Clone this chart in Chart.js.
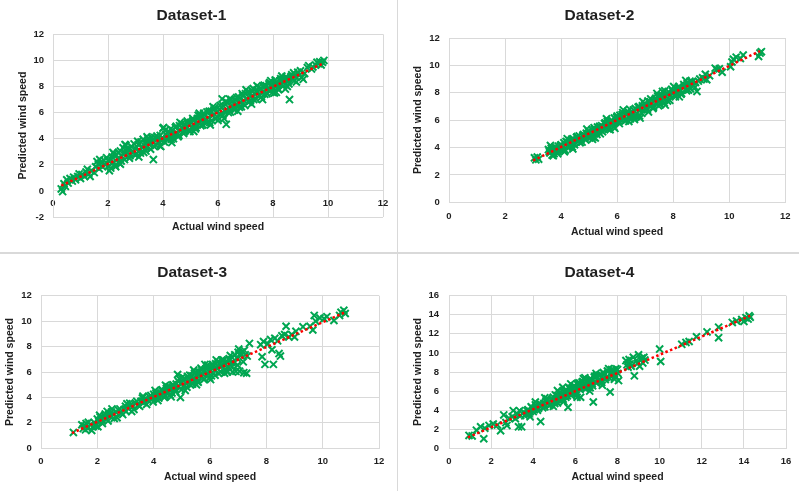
<!DOCTYPE html>
<html>
<head>
<meta charset="utf-8">
<title>Actual vs predicted wind speed</title>
<script src="https://cdn.jsdelivr.net/npm/chart.js@4.4.1/dist/chart.umd.min.js"></script>
<style>
  html, body { margin: 0; padding: 0; background: #fff; width: 799px; height: 491px; overflow: hidden; }
  .panel { position: absolute; }
  .sep { position: absolute; background: #d9d9d9; z-index: 5; }
</style>
</head>
<body>
<div class="panel" style="left:0px;top:0px;width:398px;height:250px"><canvas id="chart1" width="398" height="250"></canvas></div>
<div class="panel" style="left:412px;top:0px;width:387px;height:250px"><canvas id="chart2" width="387" height="250"></canvas></div>
<div class="panel" style="left:0px;top:254px;width:392px;height:237px"><canvas id="chart3" width="392" height="237"></canvas></div>
<div class="panel" style="left:412px;top:254px;width:387px;height:237px"><canvas id="chart4" width="387" height="237"></canvas></div>
<div class="sep" style="left:397px;top:0px;width:1px;height:491px"></div>
<div class="sep" style="left:0px;top:252px;width:799px;height:2px"></div>

<script>
// titles
const panelTitles = ['Dataset-1', 'Dataset-2', 'Dataset-3', 'Dataset-4'];
const xAxisTitle = 'Actual wind speed';
const yAxisTitle = 'Predicted wind speed';

// axis ranges [min, max], ticks every 2
const ds1XRange = [0, 12], ds1YRange = [-2, 12];
const ds2XRange = [0, 12], ds2YRange = [0, 12];
const ds3XRange = [0, 12], ds3YRange = [0, 12];
const ds4XRange = [0, 16], ds4YRange = [0, 16];

// [actual, predicted]
const ds1Points = [
  [0.30,0.15],[0.35,-0.05],[0.40,0.55],[0.45,0.35],[0.50,0.85],[0.55,0.60],[0.62,0.95],[0.70,0.75],[0.75,1.05],[0.82,0.85],
  [0.90,1.10],[1.05,1.25],[1.15,1.10],[1.20,1.45],[1.30,1.30],[1.40,1.55],[1.50,1.40],[1.60,2.25],[1.65,2.05],[1.70,2.40],
  [1.75,2.15],[1.80,1.85],[1.90,2.00],[2.00,2.35],[2.05,1.55],[2.10,1.75],[2.15,2.60],[2.20,2.20],[2.25,1.95],[2.30,2.75],
  [2.35,2.45],[2.40,2.15],[2.45,3.05],[2.50,2.65],[2.55,3.30],[2.60,2.40],[2.65,3.50],[2.70,2.90],[2.75,3.15],[2.80,2.70],
  [2.85,3.40],[2.90,3.05],[2.95,3.60],[3.00,3.25],[3.05,2.85],[3.10,3.55],[3.15,3.10],[3.20,3.75],[3.25,3.35],[3.30,2.95],
  [3.35,3.65],[3.40,3.30],[3.45,4.00],[3.50,3.55],[3.55,3.20],[3.60,3.85],[3.65,2.40],[3.70,4.10],[3.75,3.50],[3.80,3.95],
  [3.85,3.70],[3.90,4.25],[3.95,3.85],[4.00,4.80],[4.05,3.75],[4.10,4.35],[4.15,4.05],[4.20,4.55],[4.25,4.20],[4.30,3.95],
  [4.35,4.65],[4.40,4.30],[4.45,4.85],[4.50,4.45],[4.55,4.15],[4.60,5.00],[4.65,4.60],[4.70,4.85],[4.75,4.40],[4.80,5.10],
  [4.85,4.75],[4.90,5.20],[4.95,4.65],[5.00,5.25],[5.05,4.90],[5.10,5.40],[5.15,5.05],[5.20,4.85],[5.25,5.55],[5.30,5.20],
  [5.35,5.75],[5.40,5.35],[5.45,5.05],[5.50,5.80],[5.55,5.45],[5.60,6.05],[5.65,5.60],[5.70,5.25],[5.75,6.10],[5.80,5.75],
  [5.85,6.20],[5.90,5.55],[5.95,6.00],[6.00,5.40],[6.05,6.25],[6.10,5.85],[6.15,7.05],[6.20,6.50],[6.25,6.10],[6.30,5.10],
  [6.35,6.75],[6.40,6.35],[6.45,6.05],[6.50,6.85],[6.55,6.50],[6.60,6.20],[6.65,6.95],[6.70,6.60],[6.75,7.20],[6.80,6.75],
  [6.85,6.45],[6.90,7.30],[6.95,6.90],[7.00,7.45],[7.05,7.05],[7.10,6.80],[7.15,7.55],[7.20,7.20],[7.25,7.65],[7.30,7.00],
  [7.35,7.40],[7.40,7.70],[7.50,7.30],[7.55,7.85],[7.60,7.50],[7.65,8.00],[7.70,7.40],[7.75,8.05],[7.80,7.80],[7.85,8.20],
  [7.90,7.65],[7.95,8.15],[8.00,7.90],[8.05,7.50],[8.10,8.30],[8.15,8.05],[8.20,7.75],[8.25,8.45],[8.30,8.20],[8.35,8.55],
  [8.40,8.35],[8.45,7.80],[8.50,8.65],[8.55,8.40],[8.60,7.00],[8.65,8.75],[8.70,8.55],[8.80,8.80],[8.90,9.10],[9.05,8.70],
  [9.10,8.55],[9.15,9.00],[9.25,9.45],[9.30,9.60],[9.40,9.35],[9.55,9.65],[9.65,9.75],[9.70,9.90],[9.80,9.85],[9.85,10.00],
  [1.95,2.55],[2.02,1.90],[2.12,2.40],[2.22,2.85],[2.28,1.85],[2.38,2.95],[2.48,2.30],[2.58,2.95],[2.68,3.25],[2.78,2.50],
  [2.88,3.00],[2.98,2.75],[3.08,3.80],[3.18,2.90],[3.28,3.95],[3.38,3.05],[3.48,3.75],[3.58,4.10],[3.68,3.40],[3.78,4.20],
  [3.88,3.45],[3.98,4.05],[4.08,4.65],[4.18,3.90],[4.28,4.75],[4.38,4.00],[4.48,4.95],[4.58,4.25],[4.68,5.15],[4.78,4.55],
  [4.88,5.35],[4.98,4.55],[5.08,5.55],[5.18,4.75],[5.28,5.80],[5.38,5.00],[5.48,5.95],[5.58,5.20],[5.68,6.10],[5.78,5.40],
  [5.88,6.35],[5.98,5.65],[6.08,6.55],[6.18,5.80],[6.28,6.85],[6.38,6.00],[6.48,7.00],[6.58,6.30],[6.68,7.15],[6.78,6.40],
  [6.88,7.45],[6.98,6.55],[7.08,7.60],[7.18,6.90],[7.28,7.85],[7.38,7.05],[7.48,7.95],[7.58,7.20],[7.68,8.10],[7.78,7.45],
  [7.88,8.30],[7.98,7.55],[8.08,8.50],[8.18,7.85],[8.28,8.60],[8.38,8.05],[8.48,8.75],[8.58,8.20],[8.68,8.90],[8.78,8.45],
  [8.95,8.85],[9.00,9.20],[1.00,0.95],[1.25,1.65],[0.95,1.30],[1.35,1.10],[1.55,1.85],[1.85,2.35],[9.45,9.50],[9.60,9.85],
  [9.75,9.65],[2.62,3.55],[3.12,2.60],[3.42,4.15],[3.92,3.40],[4.02,4.85],[4.32,3.70],[4.62,5.25],[5.12,4.55],[5.32,5.95],
  [5.72,5.05],[5.82,6.45],[6.22,5.55],[6.42,7.05],[6.72,6.10],[7.02,7.75],[7.22,6.65],[7.42,8.05],[7.62,7.00],[7.92,8.45],
  [8.12,7.55],[8.32,8.80],[8.52,8.00],[8.75,9.05],[8.85,8.35],[2.18,2.95],[1.68,1.70],[2.45,2.05]
];
const ds2Points = [
  [3.05,3.25],[3.10,3.10],[3.15,3.30],[3.20,3.15],[3.55,3.85],[3.60,3.60],[3.65,3.95],[3.70,3.75],[3.75,3.55],[3.80,3.90],
  [3.85,3.70],[3.90,4.10],[3.95,3.85],[4.00,4.20],[4.05,3.95],[4.10,4.35],[4.15,3.80],[4.20,4.40],[4.25,4.15],[4.30,4.50],
  [4.35,4.25],[4.40,4.05],[4.45,4.60],[4.50,4.40],[4.55,4.75],[4.60,4.50],[4.65,4.85],[4.70,4.60],[4.75,4.40],[4.80,4.95],
  [4.85,4.70],[4.90,5.05],[4.95,4.80],[5.00,5.15],[5.05,4.90],[5.10,5.30],[5.15,4.75],[5.20,5.35],[5.25,5.10],[5.30,5.50],
  [5.35,5.20],[5.40,5.00],[5.45,5.60],[5.50,5.35],[5.55,5.75],[5.60,5.45],[5.65,5.90],[5.70,5.55],[5.75,5.30],[5.80,6.00],
  [5.85,5.75],[5.90,6.15],[5.95,5.85],[6.00,6.30],[6.05,5.95],[6.10,6.35],[6.15,6.05],[6.20,6.55],[6.25,6.20],[6.30,5.95],
  [6.35,6.45],[6.40,6.25],[6.45,6.80],[6.50,6.30],[6.55,6.55],[6.60,6.20],[6.65,6.85],[6.70,6.50],[6.75,6.95],[6.80,6.30],
  [6.85,6.80],[6.90,7.05],[6.95,6.75],[7.00,7.20],[7.05,6.90],[7.10,7.40],[7.15,7.05],[7.20,7.55],[7.25,7.20],[7.30,6.95],
  [7.35,7.50],[7.40,7.30],[7.45,7.75],[7.50,7.40],[7.55,7.15],[7.60,7.80],[7.65,7.55],[7.70,8.15],[7.75,7.70],[7.80,7.40],
  [7.85,8.05],[7.90,7.80],[7.95,8.25],[8.00,8.10],[8.05,7.85],[8.10,8.30],[8.15,8.00],[8.20,8.45],[8.25,8.20],[8.30,7.95],
  [8.40,8.40],[8.50,8.70],[8.55,8.20],[8.60,8.85],[8.70,8.55],[8.80,8.75],[8.85,8.10],[8.90,8.85],[9.05,9.10],[9.15,9.35],
  [9.20,8.95],[9.30,9.25],[9.50,9.80],[9.55,9.70],[9.65,9.75],[9.75,9.50],[10.05,9.90],[10.10,10.25],[10.15,10.45],[10.25,10.60],
  [10.40,10.50],[10.50,10.75],[11.05,10.65],[11.10,10.90],[11.15,11.00],
  [3.58,3.70],[3.68,3.45],[3.78,4.05],[3.88,3.55],[3.98,4.15],[4.08,3.80],[4.18,4.45],[4.28,4.00],[4.38,4.60],[4.48,4.20],
  [4.58,4.80],[4.68,4.35],[4.78,4.90],[4.88,4.55],[4.98,5.20],[5.08,4.80],[5.18,5.45],[5.28,4.95],[5.38,5.55],[5.48,5.15],
  [5.58,5.80],[5.68,5.35],[5.78,5.95],[5.88,5.50],[5.98,6.20],[6.08,5.75],[6.18,6.40],[6.28,5.95],[6.38,6.65],[6.48,6.10],
  [6.58,6.75],[6.68,6.25],[6.78,7.00],[6.88,6.50],[6.98,7.20],[7.08,6.75],[7.18,7.35],[7.28,6.85],[7.38,7.60],[7.48,7.05],
  [7.58,7.70],[7.68,7.25],[7.78,7.95],[7.88,7.45],[7.98,8.15],[8.08,7.70],[8.18,8.35],[8.28,7.90],[8.38,8.60],[8.48,8.15],
  [8.58,8.65],[8.68,8.80],[8.78,8.40],[8.95,9.00],[9.10,9.00],[6.62,6.05],[6.82,6.15],[5.22,4.70],[4.12,3.70],[7.62,8.10],
  [3.62,4.15],[3.72,3.40],[4.22,4.65],[4.42,3.90],[4.92,5.35],[5.12,4.60],[5.62,6.10],[5.92,5.40],[6.22,6.75],[6.42,5.90],
  [6.92,7.35],[7.12,6.60],[7.42,7.95],[7.72,7.10],[8.02,8.45],[8.22,7.70],[8.45,8.90],[8.62,8.30]
];
const ds3Points = [
  [1.15,1.25],[1.45,1.85],[1.50,1.55],[1.55,1.75],[1.60,1.95],[1.65,1.60],[1.75,1.85],[1.80,1.40],[1.85,1.70],[1.90,2.00],
  [2.00,2.30],[2.05,2.10],[2.10,2.45],[2.15,2.25],[2.25,2.55],[2.30,2.35],[2.35,2.90],[2.40,2.65],[2.45,2.50],[2.55,2.70],
  [2.65,2.85],[2.70,2.40],[2.75,3.00],[2.85,2.80],[2.95,3.05],[3.00,3.30],[3.05,3.50],[3.10,3.15],[3.20,3.45],[3.25,3.25],
  [3.35,3.55],[3.45,3.40],[3.55,3.70],[3.65,3.60],[3.70,3.90],[3.80,3.75],[3.90,4.15],[3.95,3.90],[4.00,4.25],[4.05,4.55],
  [4.10,4.05],[4.15,3.75],[4.20,4.40],[4.25,4.20],[4.30,4.60],[4.35,4.35],[4.40,4.15],[4.45,4.70],[4.50,4.45],[4.55,4.85],
  [4.60,4.60],[4.65,4.35],[4.70,4.95],[4.75,4.70],[4.80,5.05],[4.85,5.80],[4.90,4.85],[4.95,4.00],[5.00,5.20],[5.05,4.90],
  [5.10,5.40],[5.15,5.10],[5.20,5.65],[5.25,5.30],[5.30,5.00],[5.35,5.70],[5.40,5.45],[5.45,5.90],[5.50,5.55],[5.55,5.25],
  [5.60,6.00],[5.65,5.70],[5.70,6.20],[5.75,5.80],[5.80,5.45],[5.85,6.25],[5.90,5.90],[5.95,6.40],[6.00,6.05],[6.05,5.70],
  [6.10,6.45],[6.15,6.15],[6.20,6.65],[6.25,6.30],[6.30,5.90],[6.35,6.70],[6.40,6.45],[6.45,6.90],[6.50,6.55],[6.55,6.20],
  [6.60,6.85],[6.65,6.40],[6.70,6.95],[6.80,6.00],[6.85,6.70],[6.95,7.10],[7.00,7.55],[7.05,6.05],[7.10,7.30],[7.15,7.60],
  [7.20,5.95],[7.25,7.35],[7.30,5.90],[7.40,8.25],[7.80,8.15],[7.85,7.20],[7.90,8.40],[7.95,6.60],[8.05,8.20],[8.15,8.55],
  [8.20,7.75],[8.25,6.60],[8.30,8.65],[8.40,8.45],[8.45,7.45],[8.50,7.25],[8.55,8.85],[8.65,8.95],[8.70,9.60],[8.80,8.75],
  [8.90,8.95],[9.00,8.75],[9.05,9.20],[9.30,9.55],[9.55,9.60],[9.65,9.30],[9.70,10.45],[9.75,10.00],[9.90,10.25],[10.05,10.20],
  [10.15,10.35],[10.40,10.05],[10.60,10.45],[10.65,10.70],[10.75,10.85],[10.80,10.60],
  [1.58,1.45],[1.68,2.05],[1.95,1.75],[2.08,2.60],[2.18,1.95],[2.28,2.70],[2.38,2.15],[2.50,2.85],[2.60,2.35],[2.80,3.10],
  [2.90,2.65],[3.02,2.90],[3.15,3.55],[3.30,3.05],[3.40,3.70],[3.50,3.30],[3.60,3.95],[3.75,3.45],[3.85,4.05],[3.98,3.65],
  [4.08,4.35],[4.18,3.95],[4.28,4.55],[4.38,4.00],[4.48,4.85],[4.58,4.20],[4.68,5.00],[4.78,4.45],[4.88,5.25],[4.98,4.60],
  [5.08,5.50],[5.18,4.80],[5.28,5.75],[5.38,5.05],[5.48,6.00],[5.58,5.20],[5.68,6.30],[5.78,5.40],[5.88,6.45],[5.98,5.55],
  [6.08,6.60],[6.18,5.75],[6.28,6.80],[6.38,6.00],[6.48,6.95],[6.58,6.10],[6.68,7.05],[6.78,6.40],[6.88,7.35],[6.98,6.55],
  [7.08,7.45],[7.18,6.80],[7.22,7.70],[7.32,7.25],[6.92,6.05],[6.75,6.75],[5.92,6.55],[6.42,6.95],[5.62,5.95],[5.02,5.60],
  [4.42,4.95],[4.62,4.05],[4.92,5.45],[5.12,4.55],[5.42,6.15],[5.52,5.00],[5.82,6.60],[6.02,5.40],[6.22,6.95],[6.52,5.90],
  [6.72,7.30],[6.62,6.00],[7.02,7.80],[3.62,4.10],[3.22,2.90],[2.52,3.10],[2.02,1.70]
];
const ds4Points = [
  [0.95,1.35],[1.10,1.30],[1.30,1.90],[1.50,2.25],[1.65,1.00],[1.70,2.10],[1.90,2.40],[2.10,2.55],[2.30,2.45],[2.45,1.85],
  [2.60,3.50],[2.70,2.70],[2.75,2.40],[2.85,3.15],[3.00,3.30],[3.05,3.95],[3.15,3.10],[3.25,3.60],[3.30,2.25],[3.40,3.45],
  [3.45,2.25],[3.55,3.80],[3.65,3.60],[3.75,4.05],[3.85,3.85],[3.95,4.25],[4.05,4.05],[4.15,4.40],[4.25,4.20],[4.35,2.80],
  [4.40,4.55],[4.50,4.70],[4.55,4.35],[4.65,5.20],[4.70,4.80],[4.80,4.55],[4.85,5.05],[4.95,5.35],[5.00,4.90],[5.05,5.60],
  [5.10,5.20],[5.15,4.75],[5.20,5.45],[5.25,5.80],[5.30,5.30],[5.35,5.05],[5.40,6.40],[5.45,5.60],[5.50,5.90],[5.55,5.35],
  [5.60,6.05],[5.65,4.30],[5.70,5.75],[5.75,6.20],[5.80,5.55],[5.85,6.35],[5.90,5.90],[5.95,6.55],[6.00,6.10],[6.05,5.60],
  [6.10,6.70],[6.15,6.30],[6.20,6.85],[6.25,5.35],[6.30,6.45],[6.35,7.00],[6.40,6.55],[6.45,7.40],[6.50,6.25],[6.55,6.90],
  [6.60,6.60],[6.65,7.20],[6.70,6.35],[6.75,7.05],[6.80,6.75],[6.85,4.85],[6.90,7.45],[6.95,6.95],[7.00,7.60],[7.10,7.10],
  [7.20,7.70],[7.25,6.90],[7.35,7.85],[7.45,7.40],[7.55,8.05],[7.65,5.90],[7.70,7.80],[7.80,8.20],[7.90,7.55],[8.00,8.25],
  [8.05,7.10],[8.40,9.20],[8.50,8.50],[8.60,8.85],[8.75,9.55],[8.80,7.60],[8.90,9.20],[9.00,9.80],[9.05,8.60],[9.15,9.45],
  [9.30,9.25],[10.00,10.40],[10.05,9.10],[11.05,10.90],[11.25,11.10],[11.40,11.20],[11.75,11.70],[12.25,12.20],[12.80,12.70],[12.80,11.60],
  [13.45,13.20],[13.65,13.35],[13.90,13.50],[14.00,13.30],[14.10,13.70],[14.20,13.55],[14.25,13.90],[14.30,13.75],
  [3.60,3.40],[3.70,3.95],[3.80,3.60],[3.90,4.35],[4.00,3.85],[4.10,4.55],[4.20,4.00],[4.30,4.70],[4.45,4.25],[4.60,4.95],
  [4.75,4.45],[4.90,5.15],[5.02,4.70],[5.12,5.50],[5.22,5.05],[5.32,5.70],[5.42,5.15],[5.52,6.10],[5.62,5.50],[5.72,6.35],
  [5.82,5.75],[5.92,6.50],[6.02,5.90],[6.12,6.85],[6.22,6.20],[6.32,6.95],[6.42,6.35],[6.52,7.10],[6.62,6.45],[6.72,7.30],
  [6.82,6.55],[6.92,7.55],[7.02,6.85],[7.12,7.65],[7.22,7.05],[7.32,7.95],[7.42,7.20],[7.52,8.10],[7.62,7.35],[7.72,8.25],
  [7.82,7.70],[7.92,8.35],[8.02,7.85],[8.45,8.75],[8.55,9.30],[8.65,8.60],[8.95,8.90],[9.10,9.30],[9.20,8.95],[9.25,9.55],
  [4.55,5.30],[4.95,4.40],[5.15,6.05],[5.45,4.90],[5.78,6.75],[6.08,5.35],[6.38,7.30],[6.68,6.00],[6.98,7.85],[7.28,6.60],
  [7.58,8.35],[7.85,7.25],[3.35,3.95],[3.85,3.30],[4.10,4.85]
];

// linear trendline end points
const ds1Trend = [[0.3, 0.4], [9.8, 9.75]];
const ds2Trend = [[3.0, 3.05], [11.1, 11.05]];
const ds3Trend = [[1.1, 1.2], [10.8, 10.7]];
const ds4Trend = [[0.9, 1.15], [14.3, 13.9]];

const TEXT = '#1f1f1f';
const GRID = '#d9d9d9';
const GREEN = '#00a651';
const FONT = '"Liberation Sans", Arial, sans-serif';

const toXY = pts => pts.map(p => ({ x: p[0], y: p[1] }));

function buildChart(canvasId, cfg) {
  const tickFont = { family: FONT, size: 9.5, weight: 'bold' };
  const axisTitleFont = { family: FONT, size: 10.5, weight: 'bold', lineHeight: 1 };

  const scales = {
    x: {
      type: 'linear',
      min: cfg.xRange[0],
      max: cfg.xRange[1],
      position: cfg.xAtZero ? { y: 0 } : 'bottom',
      ticks: { stepSize: 2, padding: cfg.xTickPad, color: TEXT, font: tickFont, maxRotation: 0 },
      grid: { color: GRID, drawTicks: false },
      border: { color: GRID },
      title: { display: !cfg.xAtZero, text: xAxisTitle, color: TEXT, font: axisTitleFont, padding: { top: 0, bottom: cfg.xTitlePad } }
    },
    y: {
      type: 'linear',
      min: cfg.yRange[0],
      max: cfg.yRange[1],
      ticks: { stepSize: 2, padding: cfg.yTickPad, color: TEXT, font: tickFont },
      grid: { color: GRID, drawTicks: false },
      border: { color: GRID },
      title: { display: true, text: yAxisTitle, color: TEXT, font: axisTitleFont, padding: { top: cfg.yTitlePad, bottom: 0 } },
      afterFit: s => { s.width = cfg.yWidth; }
    }
  };
  if (cfg.xAtZero) {
    // x axis sits on y = 0, so the axis title goes on an empty bottom scale
    scales.xt = {
      type: 'linear', position: 'bottom', min: 0, max: 1,
      ticks: { display: false }, grid: { display: false }, border: { display: false },
      title: { display: true, text: xAxisTitle, color: TEXT, font: axisTitleFont, padding: { top: 0, bottom: cfg.xTitlePad } },
      afterFit: s => { s.height = cfg.xHeight; }
    };
  } else {
    scales.x.afterFit = s => { s.height = cfg.xHeight; };
  }

  return new Chart(document.getElementById(canvasId), {
    type: 'scatter',
    data: {
      datasets: [
        {
          type: 'line',
          data: toXY(cfg.trend),
          borderColor: '#ff0000',
          borderWidth: 2.5,
          borderDash: [2.5, 2.5],
          pointRadius: 0,
          fill: false,
          order: 0
        },
        {
          data: toXY(cfg.points),
          pointStyle: 'crossRot',
          pointRadius: 5,
          borderColor: GREEN,
          backgroundColor: GREEN,
          borderWidth: 2,
          order: 1
        }
      ]
    },
    options: {
      responsive: false,
      animation: false,
      layout: { padding: cfg.padding },
      plugins: {
        legend: { display: false },
        tooltip: { enabled: false },
        title: {
          display: true,
          text: cfg.title,
          color: TEXT,
          font: { family: FONT, size: 15.5, weight: 'bold', lineHeight: 1.2 },
          padding: cfg.titlePad
        }
      },
      scales: scales
    }
  });
}

buildChart('chart1', {
  title: panelTitles[0], points: ds1Points, trend: ds1Trend, xRange: ds1XRange, yRange: ds1YRange,
  xAtZero: true, padding: { left: 0, right: 15, top: 0, bottom: 0 },
  titlePad: { top: 6, bottom: 9.7 }, yWidth: 53, yTitlePad: 17.5, yTickPad: 9,
  xHeight: 33, xTickPad: 6.6, xTitlePad: 18
});
buildChart('chart2', {
  title: panelTitles[1], points: ds2Points, trend: ds2Trend, xRange: ds2XRange, yRange: ds2YRange,
  xAtZero: false, padding: { left: 0, right: 12, top: 0, bottom: 0 },
  titlePad: { top: 6, bottom: 13.4 }, yWidth: 37, yTitlePad: 1, yTickPad: 9.3,
  xHeight: 47.7, xTickPad: 8.5, xTitlePad: 12.5
});
buildChart('chart3', {
  title: panelTitles[2], points: ds3Points, trend: ds3Trend, xRange: ds3XRange, yRange: ds3YRange,
  xAtZero: false, padding: { left: 5, right: 12.7, top: 0, bottom: 0 },
  titlePad: { top: 9, bottom: 14.1 }, yWidth: 36, yTitlePad: 0, yTickPad: 9.3,
  xHeight: 42.7, xTickPad: 7.7, xTitlePad: 8.5
});
buildChart('chart4', {
  title: panelTitles[3], points: ds4Points, trend: ds4Trend, xRange: ds4XRange, yRange: ds4YRange,
  xAtZero: false, padding: { left: 0, right: 12, top: 0, bottom: 0 },
  titlePad: { top: 9, bottom: 14.1 }, yWidth: 37, yTitlePad: 1, yTickPad: 10,
  xHeight: 42.7, xTickPad: 7.7, xTitlePad: 8.5
});
</script>
</body>
</html>
